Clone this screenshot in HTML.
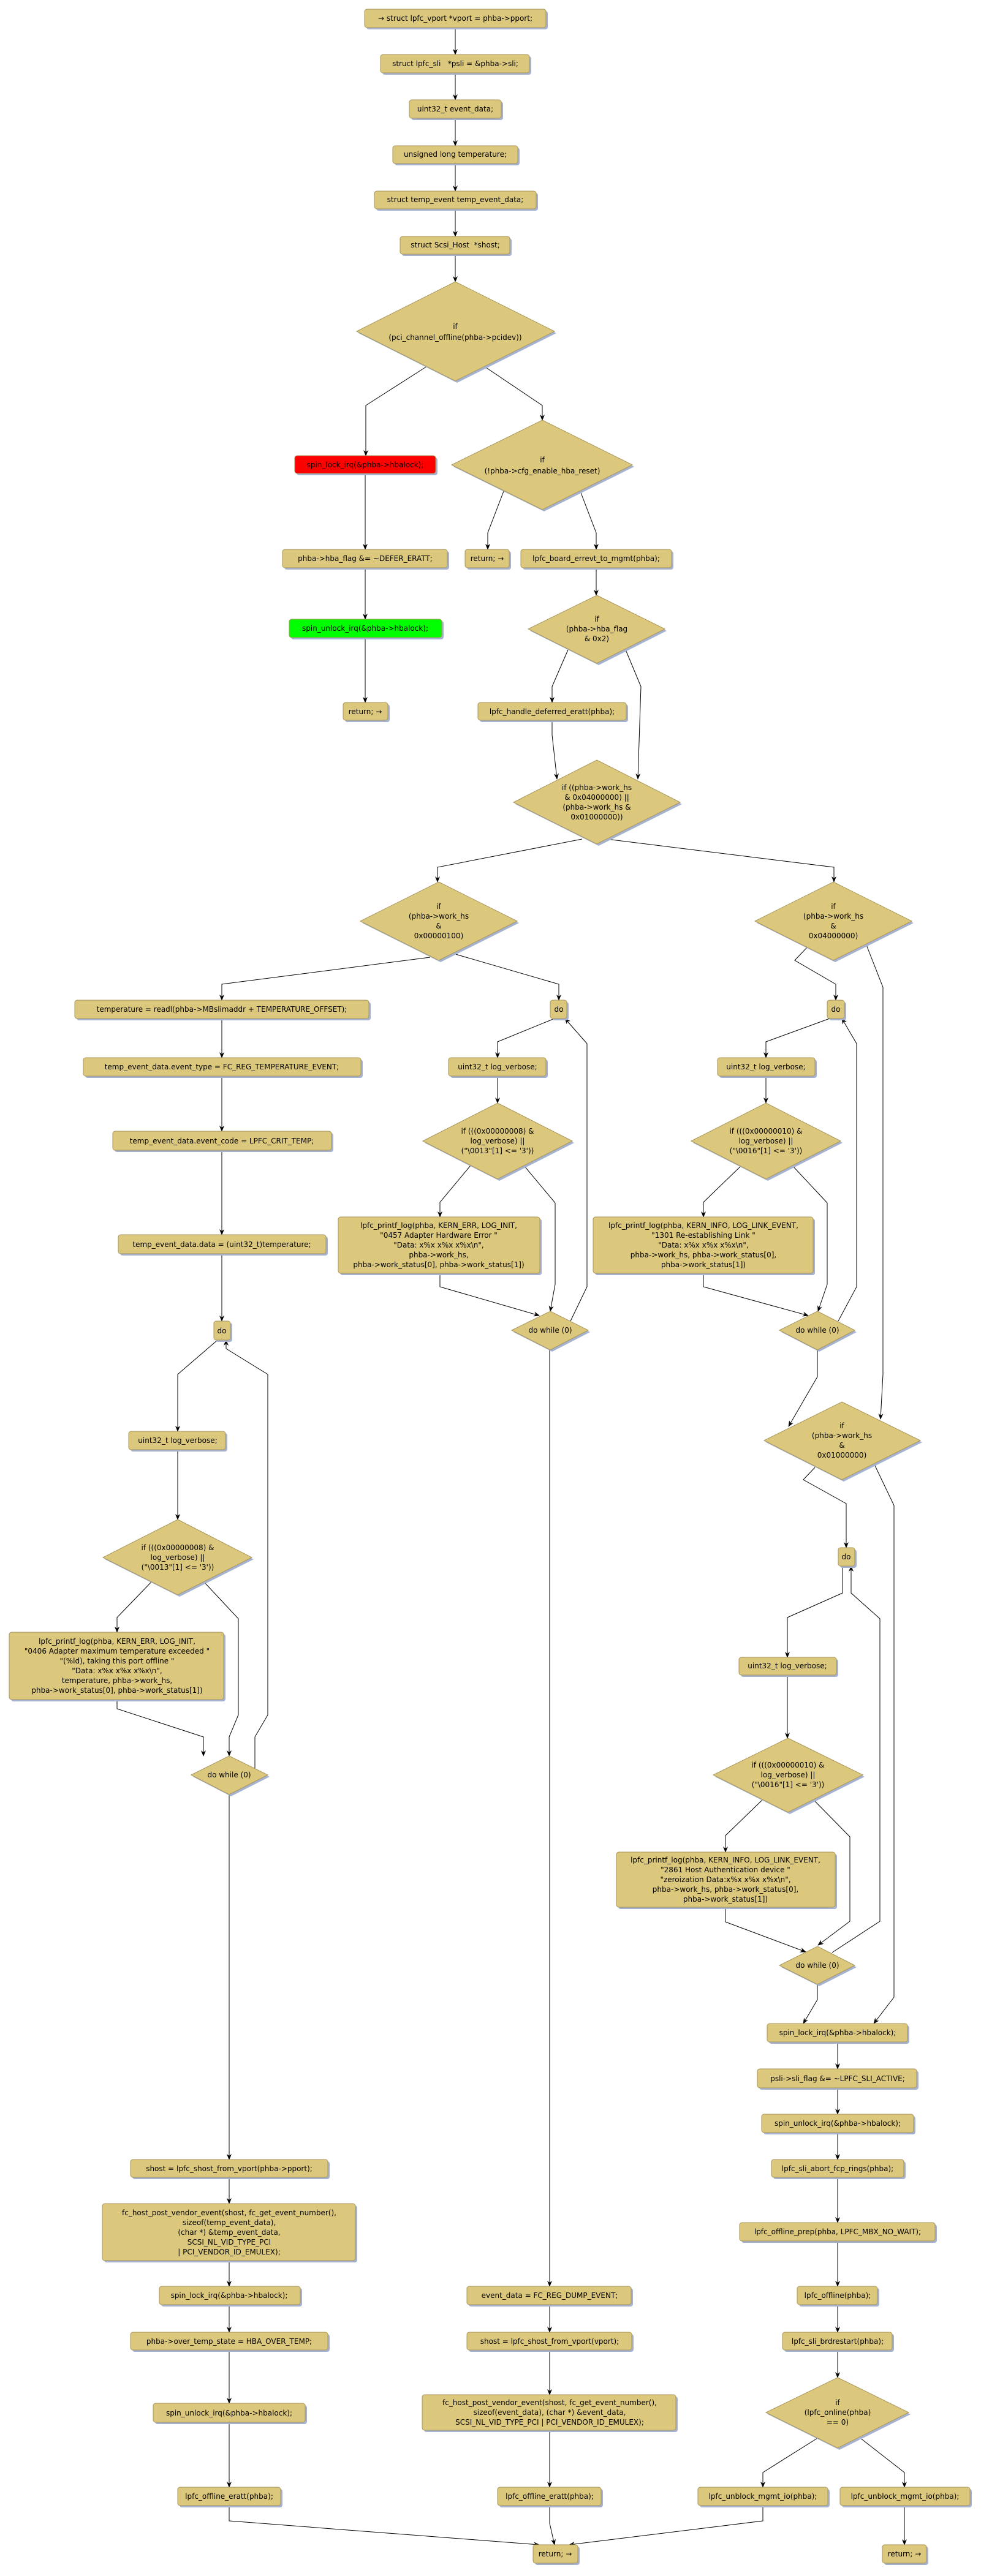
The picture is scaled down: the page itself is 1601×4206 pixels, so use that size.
<!DOCTYPE html>
<html><head><meta charset="utf-8"><style>
html,body{margin:0;padding:0;background:#fff}
svg{display:block}
.b{fill:#dcc87d;stroke:#a8955a;stroke-width:1}
.s{fill:#a6b3d0}
.r{fill:#ff0000;stroke:#a8955a}
.g{fill:#00ff00;stroke:#a8955a}
text{font-family:"DejaVu Sans","Liberation Sans",sans-serif;font-size:12px;fill:#000;text-anchor:middle}
.e{fill:none;stroke:#000;stroke-width:1}
</style></head><body>
<svg width="1601" height="4206" viewBox="0 0 1601 4206" xmlns="http://www.w3.org/2000/svg">
<defs><marker id="a" markerWidth="10" markerHeight="10" refX="9" refY="5" orient="auto" markerUnits="userSpaceOnUse"><path d="M0,1 L10,5 L0,9 L3,5 z" fill="#000"/></marker></defs>
<g id="edges" class="e" marker-end="url(#a)">
<path d="M743,45V89"/><path d="M743,119V163"/><path d="M743,193V238"/><path d="M743,267V312"/><path d="M743,341V386"/><path d="M743,415V460"/>
<path d="M697,598L597,662V744"/><path d="M790,598L885,662V686"/>
<path d="M596,773V897"/><path d="M596,927V1011"/><path d="M596,1041V1147"/>
<path d="M822,802L796,870V897"/><path d="M947,802L973,870V897"/>
<path d="M973,927V972"/>
<path d="M927,1061L901,1121V1147"/><path d="M1021,1061L1046,1121L1041,1272"/>
<path d="M901,1176V1200L909,1272"/>
<path d="M950,1370L714,1416V1440"/><path d="M990,1370L1361,1416V1440"/>
<path d="M702,1563L362,1607V1633"/><path d="M740,1557L912,1607V1633"/>
<path d="M1317,1547L1297,1568L1364,1607V1633"/><path d="M1414,1543L1441,1612V2244L1437,2317"/>
<path d="M362,1663V1727"/><path d="M362,1757V1847"/><path d="M362,1878V2016"/><path d="M362,2047V2157"/>
<path d="M905,1663L812,1701V1727"/><path d="M812,1757V1801"/>
<path d="M768,1903L718,1963V1987"/><path d="M855,1903L906,1964V2097L898,2141"/>
<path d="M718,2079V2101L880,2148"/><path d="M931,2157L958,2101V1704L922,1663"/>
<path d="M897,2204V3733"/>
<path d="M1354,1663L1250,1701V1727"/><path d="M1250,1757V1801"/>
<path d="M1210,1903L1148,1963V1987"/><path d="M1293,1903L1350,1964V2097L1335,2141"/>
<path d="M1148,2079V2101L1319,2148"/><path d="M1368,2157L1398,2101V1704L1374,1663"/>
<path d="M1334,2204V2248L1287,2329"/>
<path d="M1330,2396L1311,2416L1381,2455V2527"/><path d="M1427,2391L1459,2458V3261L1426,3304"/>
<path d="M1375,2557V2601L1285,2641V2706"/><path d="M1358,3188L1436,3137V2643L1389,2601V2557"/>
<path d="M1285,2735V2838"/>
<path d="M1244,2939L1184,2997V3024"/><path d="M1328,2939L1387,2999V3137L1335,3176"/>
<path d="M1184,3114V3138L1315,3187"/><path d="M1334,3240V3265L1311,3304"/>
<path d="M1367,3334V3378"/><path d="M1367,3409V3452"/><path d="M1367,3482V3526"/><path d="M1367,3555V3629"/><path d="M1367,3659V3733"/><path d="M1367,3763V3808"/><path d="M1367,3837V3882"/>
<path d="M1334,3981L1245,4037V4061"/><path d="M1403,3980L1476,4037V4061"/><path d="M1476,4091V4155"/>
<path d="M355,2188L290,2244V2337"/><path d="M416,2888V2836L437,2800V2244L369,2202V2188"/>
<path d="M290,2367V2481"/>
<path d="M247,2583L191,2641V2665"/><path d="M333,2583L389,2643V2800L374,2836V2867"/>
<path d="M191,2775V2790L332,2836V2867"/>
<path d="M374,2930V3526"/><path d="M374,3555V3598"/><path d="M374,3691V3733"/><path d="M374,3763V3808"/><path d="M374,3837V3924"/><path d="M374,3955V4061"/>
<path d="M897,3763V3808"/><path d="M897,3837V3910"/><path d="M897,3968V4061"/>
<path d="M374,4091V4116L880,4155"/><path d="M897,4091V4120L905,4155"/><path d="M1245,4091V4116L929,4155"/>
</g>
<g id="nodes">
<!-- boxes: shadow then box -->
<rect class="s" x="598" y="18" width="296" height="30" rx="4"/><rect class="b" x="595" y="15" width="296" height="30" rx="4"/><text x="743" y="34">→ struct lpfc_vport *vport = phba-&gt;pport;</text>
<rect class="s" x="624" y="92" width="243" height="30" rx="4"/><rect class="b" x="621" y="89" width="243" height="30" rx="4"/><text x="743" y="108" xml:space="preserve">struct lpfc_sli   *psli = &amp;phba-&gt;sli;</text>
<rect class="s" x="671" y="166" width="150" height="30" rx="4"/><rect class="b" x="668" y="163" width="150" height="30" rx="4"/><text x="743" y="182">uint32_t event_data;</text>
<rect class="s" x="644" y="241" width="204" height="29" rx="4"/><rect class="b" x="641" y="238" width="204" height="29" rx="4"/><text x="743" y="256">unsigned long temperature;</text>
<rect class="s" x="614" y="315" width="264" height="29" rx="4"/><rect class="b" x="611" y="312" width="264" height="29" rx="4"/><text x="743" y="330">struct temp_event temp_event_data;</text>
<rect class="s" x="656" y="389" width="179" height="29" rx="4"/><rect class="b" x="653" y="386" width="179" height="29" rx="4"/><text x="743" y="404" xml:space="preserve">struct Scsi_Host  *shost;</text>
<polygon class="s" points="746,463 908,544 746,625 585,544"/><polygon class="b" points="743,460 905,541 743,622 582,541"/><text x="743" y="537">if</text><text x="743" y="555">(pci_channel_offline(phba-&gt;pcidev))</text>
<rect class="s" x="484" y="747" width="230" height="29" rx="4"/><rect class="r" x="481" y="744" width="230" height="29" rx="4"/><text x="596" y="763">spin_lock_irq(&amp;phba-&gt;hbalock);</text>
<polygon class="s" points="888,689 1035,762 888,835 740,762"/><polygon class="b" points="885,686 1032,759 885,832 737,759"/><text x="885" y="755">if</text><text x="885" y="773">(!phba-&gt;cfg_enable_hba_reset)</text>
<rect class="s" x="464" y="900" width="269" height="30" rx="4"/><rect class="b" x="461" y="897" width="269" height="30" rx="4"/><text x="596" y="916">phba-&gt;hba_flag &amp;= ~DEFER_ERATT;</text>
<rect class="s" x="762" y="900" width="72" height="30" rx="4"/><rect class="b" x="759" y="897" width="72" height="30" rx="4"/><text x="795" y="916">return; →</text>
<rect class="s" x="853" y="900" width="246" height="30" rx="4"/><rect class="b" x="850" y="897" width="246" height="30" rx="4"/><text x="973" y="916">lpfc_board_errevt_to_mgmt(phba);</text>
<rect class="s" x="475" y="1014" width="249" height="30" rx="4"/><rect class="g" x="472" y="1011" width="249" height="30" rx="4"/><text x="596" y="1030">spin_unlock_irq(&amp;phba-&gt;hbalock);</text>
<polygon class="s" points="977,975 1088,1030 977,1086 865,1030"/><polygon class="b" points="974,972 1085,1027 974,1083 862,1027"/><text x="974" y="1015">if</text><text x="974" y="1031">(phba-&gt;hba_flag</text><text x="974" y="1047">&amp; 0x2)</text>
<rect class="s" x="563" y="1150" width="73" height="29" rx="4"/><rect class="b" x="560" y="1147" width="73" height="29" rx="4"/><text x="596" y="1166">return; →</text>
<rect class="s" x="783" y="1150" width="242" height="29" rx="4"/><rect class="b" x="780" y="1147" width="242" height="29" rx="4"/><text x="901" y="1166">lpfc_handle_deferred_eratt(phba);</text>
<polygon class="s" points="977,1244 1113,1313 977,1381 841,1313"/><polygon class="b" points="974,1241 1110,1310 974,1378 838,1310"/><text x="974" y="1290">if ((phba-&gt;work_hs</text><text x="974" y="1306">&amp; 0x04000000) ||</text><text x="974" y="1322">(phba-&gt;work_hs &amp;</text><text x="974" y="1338">0x01000000))</text>
<polygon class="s" points="719,1443 847,1507 719,1571 591,1507"/><polygon class="b" points="716,1440 844,1504 716,1568 588,1504"/><text x="716" y="1484">if</text><text x="716" y="1500">(phba-&gt;work_hs</text><text x="716" y="1516">&amp;</text><text x="716" y="1532">0x00000100)</text>
<polygon class="s" points="1363,1443 1491,1507 1363,1571 1235,1507"/><polygon class="b" points="1360,1440 1488,1504 1360,1568 1232,1504"/><text x="1360" y="1484">if</text><text x="1360" y="1500">(phba-&gt;work_hs</text><text x="1360" y="1516">&amp;</text><text x="1360" y="1532">0x04000000)</text>
<rect class="s" x="125" y="1636" width="480" height="30" rx="4"/><rect class="b" x="122" y="1633" width="480" height="30" rx="4"/><text x="362" y="1652">temperature = readl(phba-&gt;MBslimaddr + TEMPERATURE_OFFSET);</text>
<rect class="s" x="901" y="1636" width="27" height="30" rx="4"/><rect class="b" x="898" y="1633" width="27" height="30" rx="4"/><text x="912" y="1652">do</text>
<rect class="s" x="1353" y="1636" width="28" height="30" rx="4"/><rect class="b" x="1350" y="1633" width="28" height="30" rx="4"/><text x="1364" y="1652">do</text>
<rect class="s" x="139" y="1730" width="453" height="30" rx="4"/><rect class="b" x="136" y="1727" width="453" height="30" rx="4"/><text x="362" y="1746">temp_event_data.event_type = FC_REG_TEMPERATURE_EVENT;</text>
<rect class="s" x="735" y="1730" width="159" height="30" rx="4"/><rect class="b" x="732" y="1727" width="159" height="30" rx="4"/><text x="812" y="1746">uint32_t log_verbose;</text>
<rect class="s" x="1174" y="1730" width="159" height="30" rx="4"/><rect class="b" x="1171" y="1727" width="159" height="30" rx="4"/><text x="1250" y="1746">uint32_t log_verbose;</text>
<rect class="s" x="187" y="1850" width="357" height="31" rx="4"/><rect class="b" x="184" y="1847" width="357" height="31" rx="4"/><text x="362" y="1867">temp_event_data.event_code = LPFC_CRIT_TEMP;</text>
<polygon class="s" points="815,1804 937,1866 815,1928 693,1866"/><polygon class="b" points="812,1801 934,1863 812,1925 690,1863"/><text x="812" y="1851">if (((0x00000008) &amp;</text><text x="812" y="1867">log_verbose) ||</text><text x="812" y="1883">("\0013"[1] &lt;= '3'))</text>
<polygon class="s" points="1253,1804 1375,1866 1253,1928 1131,1866"/><polygon class="b" points="1250,1801 1372,1863 1250,1925 1128,1863"/><text x="1250" y="1851">if (((0x00000010) &amp;</text><text x="1250" y="1867">log_verbose) ||</text><text x="1250" y="1883">("\0016"[1] &lt;= '3'))</text>
<rect class="s" x="555" y="1990" width="329" height="92" rx="4"/><rect class="b" x="552" y="1987" width="329" height="92" rx="4"/><text x="716" y="2005">lpfc_printf_log(phba, KERN_ERR, LOG_INIT,</text><text x="716" y="2021">"0457 Adapter Hardware Error "</text><text x="716" y="2037">"Data: x%x x%x x%x\n",</text><text x="716" y="2053">phba-&gt;work_hs,</text><text x="716" y="2069">phba-&gt;work_status[0], phba-&gt;work_status[1])</text>
<rect class="s" x="971" y="1990" width="359" height="92" rx="4"/><rect class="b" x="968" y="1987" width="359" height="92" rx="4"/><text x="1148" y="2005">lpfc_printf_log(phba, KERN_INFO, LOG_LINK_EVENT,</text><text x="1148" y="2021">"1301 Re-establishing Link "</text><text x="1148" y="2037">"Data: x%x x%x x%x\n",</text><text x="1148" y="2053">phba-&gt;work_hs, phba-&gt;work_status[0],</text><text x="1148" y="2069">phba-&gt;work_status[1])</text>
<rect class="s" x="196" y="2019" width="339" height="31" rx="4"/><rect class="b" x="193" y="2016" width="339" height="31" rx="4"/><text x="362" y="2036">temp_event_data.data = (uint32_t)temperature;</text>
<polygon class="s" points="901,2144 963,2175 901,2207 838,2175"/><polygon class="b" points="898,2141 960,2172 898,2204 835,2172"/><text x="898" y="2176">do while (0)</text>
<polygon class="s" points="1337,2144 1398,2175 1337,2207 1275,2175"/><polygon class="b" points="1334,2141 1395,2172 1334,2204 1272,2172"/><text x="1334" y="2176">do while (0)</text>
<rect class="s" x="352" y="2160" width="27" height="31" rx="4"/><rect class="b" x="349" y="2157" width="27" height="31" rx="4"/><text x="362" y="2177">do</text>
<polygon class="s" points="1377,2292 1505,2355 1377,2419 1250,2355"/><polygon class="b" points="1374,2289 1502,2352 1374,2416 1247,2352"/><text x="1374" y="2332">if</text><text x="1374" y="2348">(phba-&gt;work_hs</text><text x="1374" y="2364">&amp;</text><text x="1374" y="2380">0x01000000)</text>
<rect class="s" x="213" y="2340" width="158" height="30" rx="4"/><rect class="b" x="210" y="2337" width="158" height="30" rx="4"/><text x="290" y="2356">uint32_t log_verbose;</text>
<rect class="s" x="1371" y="2530" width="27" height="30" rx="4"/><rect class="b" x="1368" y="2527" width="27" height="30" rx="4"/><text x="1381" y="2546">do</text>
<polygon class="s" points="293,2484 414,2546 293,2607 171,2546"/><polygon class="b" points="290,2481 411,2543 290,2604 168,2543"/><text x="290" y="2531">if (((0x00000008) &amp;</text><text x="290" y="2547">log_verbose) ||</text><text x="290" y="2563">("\0013"[1] &lt;= '3'))</text>
<rect class="s" x="18" y="2668" width="350" height="110" rx="4"/><rect class="b" x="15" y="2665" width="350" height="110" rx="4"/><text x="191" y="2684">lpfc_printf_log(phba, KERN_ERR, LOG_INIT,</text><text x="191" y="2700">"0406 Adapter maximum temperature exceeded "</text><text x="191" y="2716">"(%ld), taking this port offline "</text><text x="191" y="2732">"Data: x%x x%x x%x\n",</text><text x="191" y="2748">temperature, phba-&gt;work_hs,</text><text x="191" y="2764">phba-&gt;work_status[0], phba-&gt;work_status[1])</text>
<rect class="s" x="1209" y="2709" width="159" height="29" rx="4"/><rect class="b" x="1206" y="2706" width="159" height="29" rx="4"/><text x="1285" y="2724">uint32_t log_verbose;</text>
<polygon class="s" points="377,2870 440,2901 377,2933 315,2901"/><polygon class="b" points="374,2867 437,2898 374,2930 312,2898"/><text x="374" y="2902">do while (0)</text>
<polygon class="s" points="1289,2841 1411,2901 1289,2962 1167,2901"/><polygon class="b" points="1286,2838 1408,2898 1286,2959 1164,2898"/><text x="1286" y="2886">if (((0x00000010) &amp;</text><text x="1286" y="2902">log_verbose) ||</text><text x="1286" y="2918">("\0016"[1] &lt;= '3'))</text>
<rect class="s" x="1009" y="3027" width="357" height="90" rx="4"/><rect class="b" x="1006" y="3024" width="357" height="90" rx="4"/><text x="1184" y="3041">lpfc_printf_log(phba, KERN_INFO, LOG_LINK_EVENT,</text><text x="1184" y="3057">"2861 Host Authentication device "</text><text x="1184" y="3073">"zeroization Data:x%x x%x x%x\n",</text><text x="1184" y="3089">phba-&gt;work_hs, phba-&gt;work_status[0],</text><text x="1184" y="3105">phba-&gt;work_status[1])</text>
<polygon class="s" points="1337,3181 1398,3212 1337,3243 1275,3212"/><polygon class="b" points="1334,3178 1395,3209 1334,3240 1272,3209"/><text x="1334" y="3213">do while (0)</text>
<rect class="s" x="1255" y="3307" width="229" height="30" rx="4"/><rect class="b" x="1252" y="3304" width="229" height="30" rx="4"/><text x="1367" y="3323">spin_lock_irq(&amp;phba-&gt;hbalock);</text>
<rect class="s" x="1239" y="3381" width="260" height="31" rx="4"/><rect class="b" x="1236" y="3378" width="260" height="31" rx="4"/><text x="1367" y="3398">psli-&gt;sli_flag &amp;= ~LPFC_SLI_ACTIVE;</text>
<rect class="s" x="1246" y="3455" width="248" height="30" rx="4"/><rect class="b" x="1243" y="3452" width="248" height="30" rx="4"/><text x="1367" y="3471">spin_unlock_irq(&amp;phba-&gt;hbalock);</text>
<rect class="s" x="1262" y="3529" width="216" height="29" rx="4"/><rect class="b" x="1259" y="3526" width="216" height="29" rx="4"/><text x="1367" y="3545">lpfc_sli_abort_fcp_rings(phba);</text>
<rect class="s" x="216" y="3529" width="322" height="29" rx="4"/><rect class="b" x="213" y="3526" width="322" height="29" rx="4"/><text x="374" y="3545">shost = lpfc_shost_from_vport(phba-&gt;pport);</text>
<rect class="s" x="170" y="3601" width="413" height="93" rx="4"/><rect class="b" x="167" y="3598" width="413" height="93" rx="4"/><text x="374" y="3617">fc_host_post_vendor_event(shost, fc_get_event_number(),</text><text x="374" y="3633">sizeof(temp_event_data),</text><text x="374" y="3649">(char *) &amp;temp_event_data,</text><text x="374" y="3665">SCSI_NL_VID_TYPE_PCI</text><text x="374" y="3681">| PCI_VENDOR_ID_EMULEX);</text>
<rect class="s" x="1210" y="3632" width="319" height="30" rx="4"/><rect class="b" x="1207" y="3629" width="319" height="30" rx="4"/><text x="1367" y="3648">lpfc_offline_prep(phba, LPFC_MBX_NO_WAIT);</text>
<rect class="s" x="263" y="3736" width="230" height="30" rx="4"/><rect class="b" x="260" y="3733" width="230" height="30" rx="4"/><text x="374" y="3752">spin_lock_irq(&amp;phba-&gt;hbalock);</text>
<rect class="s" x="765" y="3736" width="268" height="30" rx="4"/><rect class="b" x="762" y="3733" width="268" height="30" rx="4"/><text x="897" y="3752">event_data = FC_REG_DUMP_EVENT;</text>
<rect class="s" x="1304" y="3736" width="131" height="30" rx="4"/><rect class="b" x="1301" y="3733" width="131" height="30" rx="4"/><text x="1367" y="3752">lpfc_offline(phba);</text>
<rect class="s" x="216" y="3811" width="322" height="29" rx="4"/><rect class="b" x="213" y="3808" width="322" height="29" rx="4"/><text x="374" y="3827">phba-&gt;over_temp_state = HBA_OVER_TEMP;</text>
<rect class="s" x="765" y="3811" width="269" height="29" rx="4"/><rect class="b" x="762" y="3808" width="269" height="29" rx="4"/><text x="897" y="3827">shost = lpfc_shost_from_vport(vport);</text>
<rect class="s" x="1280" y="3811" width="179" height="29" rx="4"/><rect class="b" x="1277" y="3808" width="179" height="29" rx="4"/><text x="1367" y="3827">lpfc_sli_brdrestart(phba);</text>
<rect class="s" x="692" y="3913" width="414" height="58" rx="4"/><rect class="b" x="689" y="3910" width="414" height="58" rx="4"/><text x="897" y="3927">fc_host_post_vendor_event(shost, fc_get_event_number(),</text><text x="897" y="3943">sizeof(event_data), (char *) &amp;event_data,</text><text x="897" y="3959">SCSI_NL_VID_TYPE_PCI | PCI_VENDOR_ID_EMULEX);</text>
<rect class="s" x="253" y="3927" width="248" height="31" rx="4"/><rect class="b" x="250" y="3924" width="248" height="31" rx="4"/><text x="374" y="3944">spin_unlock_irq(&amp;phba-&gt;hbalock);</text>
<polygon class="s" points="1370,3885 1486,3942 1370,4000 1253,3942"/><polygon class="b" points="1367,3882 1483,3939 1367,3997 1250,3939"/><text x="1367" y="3927">if</text><text x="1367" y="3943">(lpfc_online(phba)</text><text x="1367" y="3959">== 0)</text>
<rect class="s" x="293" y="4064" width="168" height="30" rx="4"/><rect class="b" x="290" y="4061" width="168" height="30" rx="4"/><text x="374" y="4080">lpfc_offline_eratt(phba);</text>
<rect class="s" x="815" y="4064" width="169" height="30" rx="4"/><rect class="b" x="812" y="4061" width="169" height="30" rx="4"/><text x="897" y="4080">lpfc_offline_eratt(phba);</text>
<rect class="s" x="1142" y="4064" width="212" height="30" rx="4"/><rect class="b" x="1139" y="4061" width="212" height="30" rx="4"/><text x="1245" y="4080">lpfc_unblock_mgmt_io(phba);</text>
<rect class="s" x="1374" y="4064" width="212" height="30" rx="4"/><rect class="b" x="1371" y="4061" width="212" height="30" rx="4"/><text x="1477" y="4080">lpfc_unblock_mgmt_io(phba);</text>
<rect class="s" x="873" y="4158" width="73" height="30" rx="4"/><rect class="b" x="870" y="4155" width="73" height="30" rx="4"/><text x="906" y="4174">return; →</text>
<rect class="s" x="1443" y="4158" width="72" height="30" rx="4"/><rect class="b" x="1440" y="4155" width="72" height="30" rx="4"/><text x="1476" y="4174">return; →</text>
</g>
</svg>
</body></html>
